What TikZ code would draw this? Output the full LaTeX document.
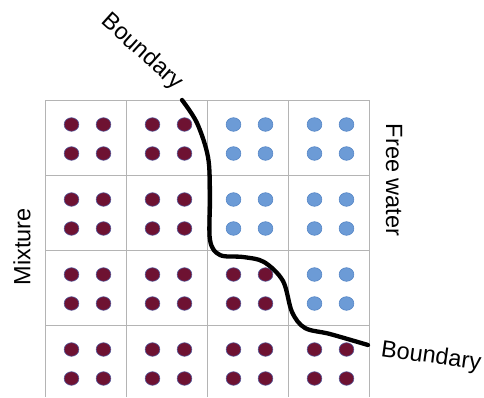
\documentclass[tikz,border=0pt]{standalone}
\usepackage{fontspec}
\setmainfont{Liberation Sans}
\definecolor{mixdot}{HTML}{6E1232}
\definecolor{mixedge}{HTML}{5A5E9E}
\definecolor{waterdot}{HTML}{6C9BD6}
\definecolor{wateredge}{HTML}{5686C6}
\definecolor{gridline}{HTML}{B4B4B4}
\tikzset{
  cellline/.style={draw=gridline, line width=1pt},
  mixdotstyle/.style={fill=mixdot, draw=mixedge, line width=0.6pt},
  waterdotstyle/.style={fill=waterdot, draw=wateredge, line width=0.6pt},
  boundline/.style={line width=4.3pt, line cap=round, line join=round},
  lbl/.style={font=\fontsize{23.5}{25}\selectfont, inner sep=0pt}
}
\begin{document}
\begin{tikzpicture}[x=1pt, y=-1pt]
\useasboundingbox (0,0) rectangle (484,397);
% cell grid (4 x 4, bottom edge lies just below the frame)
\foreach \cx in {45,126,207,288,369}
  \draw[cellline] (\cx,100) -- (\cx,397);
\foreach \cy in {100,175,250,325}
  \draw[cellline] (45,\cy) -- (369,\cy);
% particles: two by two in every cell
\foreach \col/\cx in {1/45,2/126,3/207,4/288}{
  \foreach \row/\cy in {1/100,2/175,3/250,4/325}{
    \pgfmathtruncatemacro{\iswater}{(\col>2 && \row<3) || (\col==4 && \row==3) ? 1 : 0}
    \ifnum\iswater=1 \def\dotkind{waterdotstyle}\else\def\dotkind{mixdotstyle}\fi
    \foreach \dx in {26.5,58.5}{
      \foreach \dy in {24.5,53.5}{
        \path[\dotkind] (\cx+\dx,\cy+\dy) ellipse [x radius=7.4, y radius=6.8];
      }
    }
  }
}
% interface between mixture and free water
\coordinate (bstart) at (182,100);
\coordinate (bend) at (368,345);
\draw[boundline] plot[smooth, tension=0.55] coordinates {
  (182,100) (197,123) (208,157) (210,195) (210,240) (220,255) (243,257)
  (264,262) (283,281) (292,312) (305,328) (330,334) (368,345)};
% labels
\node[lbl, rotate=-42] (btop) at (142,52) {Boundary};
\node[lbl, rotate=-8] (bbot) at (431,357) {Boundary};
\node[lbl, rotate=-90] (free) at (394,180) {Free water};
\node[lbl, rotate=90] (mix) at (22,247) {Mixture};
\end{tikzpicture}
\end{document}
